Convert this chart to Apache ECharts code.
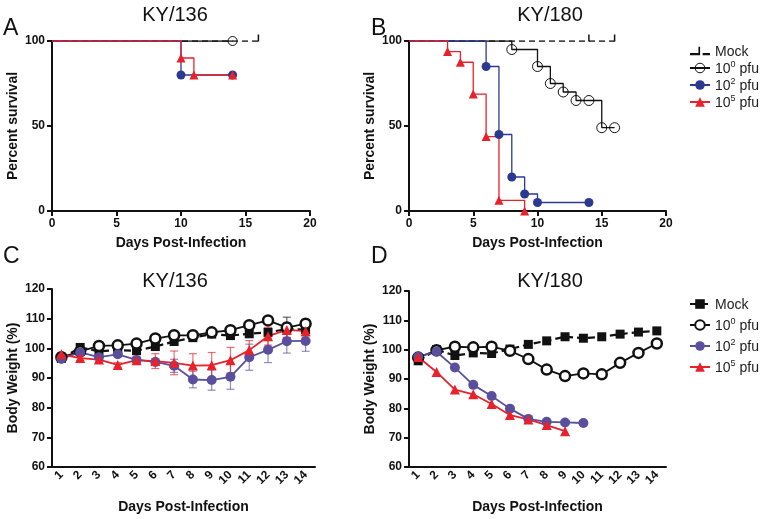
<!DOCTYPE html>
<html><head><meta charset="utf-8">
<script src="https://cdn.jsdelivr.net/npm/echarts@6/dist/echarts.min.js"></script>
<style>html,body{margin:0;padding:0;background:#fff}#c{width:762px;height:519px}</style>
</head><body><div id="c"></div>
<script>
// ---------- DATA ----------
// Survival (Kaplan-Meier) — [day, percent]
const survA_mock = [[0,100],[16,100]];
const survA_p0   = [[0,100],[14,100]];
const survA_p2   = [[0,100],[10,80],[14,80]];
const survA_p5   = [[0,100],[10,90],[11,80],[14,80]];

const survB_mock = [[0,100],[14,100],[16,100]];
const survB_p0   = [[0,100],[8,95],[10,85],[11,75],[12,70],[13,65],[14,65],[15,49],[16,49]];
const survB_p2   = [[0,100],[6,85],[7,45],[8,20],[9,10],[10,5],[14,5]];
const survB_p5   = [[0,100],[3,93.8],[4,87.5],[5,68.8],[6,43.8],[7,6.3],[9,0]];

// Body weight (%) by day
const days = ['1','2','3','4','5','6','7','8','9','10','11','12','13','14'];
const wC_mock = [96.6,100.3,99.0,99.4,99.2,100.6,102.3,103.6,104.8,104.3,104.9,105.4,106.5,106.3];
const wC_p0   = [97.0,99.0,100.8,101.0,101.6,103.3,104.4,104.4,105.4,106.1,107.8,109.4,107.0,108.3];
const wC_p2   = [96.5,98.6,97.0,98.0,96.1,95.4,94.1,89.5,89.3,90.4,97.0,99.5,102.4,102.5];
const wC_p5   = [98.0,96.7,96.2,94.4,96.0,95.7,95.1,94.2,94.3,96.0,99.4,104.1,106.2,105.8];
const eC_mock = [0.5,0.5,0.5,0.5,0.5,0.5,0.5,0.5,0.5,0.5,0.5,0.5,0.5,0.5];
const eC_p0   = [0.5,0.5,0.5,0.5,0.5,0.5,0.5,0.5,0.5,0.5,0.5,0.5,3.5,0.5];
const eC_p2   = [0.5,0.8,0.8,0.8,0.8,1.2,2.2,2.8,3.4,4.2,4.4,4.3,4.0,3.5];
const eC_p5   = [0.5,0.8,0.8,0.8,0.8,2.5,4.0,4.0,4.3,4.3,3.2,3.0,2.5,2.0];

const wD_mock = [96.2,100.0,98.0,98.9,98.7,100.2,101.8,103.0,104.4,103.9,104.4,105.3,106.0,106.4];
const wD_p0   = [97.3,99.8,101.0,100.8,101.0,99.6,96.8,93.2,91.0,91.9,91.6,95.5,98.9,102.1];
const wD_p2   = [97.6,99.3,93.9,88.0,84.2,79.9,76.4,75.4,75.2,75.0];
const wD_p5   = [97.5,92.4,86.4,84.8,81.5,77.7,76.2,74.3,72.2];

const groupNames = ['Mock','10^0 pfu','10^2 pfu','10^5 pfu'];
const weightNames = ['wMock','w10^0 pfu','w10^2 pfu','w10^5 pfu'];

// ---------- STYLE ----------
const BLACK = '#111111', BLUE = '#2c3993', PURPLE = '#594f9c', RED = '#e8212b';
const FONT = 'Liberation Sans, Arial, sans-serif';
const TICK = 'path://M0,0L1,0L1,8L0,8Z';
const MOCK_ICON = 'path://M0,7L8,7L8,1L9.6,1L9.6,9L0,9Z M12,7L19,7L19,9L12,9Z';

function survSeries(name, data, gi, color, symbol, size, opts) {
  opts = opts || {};
  return {
    type: 'line', name: name, xAxisIndex: gi, yAxisIndex: gi, step: 'end',
    data: data.map((p, i) => i === 0 ? {value: p, symbol: 'none'} : p),
    symbol: symbol, symbolSize: size, symbolOffset: opts.offset || [0, 0],
    showSymbol: true, animation: false, silent: true,
    lineStyle: {color: color, width: 1.3, type: opts.dashed ? [6, 4] : 'solid'},
    itemStyle: {color: opts.hollow ? 'rgba(0,0,0,0)' : color, borderColor: color, borderWidth: opts.hollow ? 1 : 0},
    z: opts.z || 2
  };
}
function weightSeries(name, data, gi, color, symbol, size, opts) {
  opts = opts || {};
  return {
    type: 'line', name: name, xAxisIndex: gi, yAxisIndex: gi,
    data: data, symbol: symbol, symbolSize: size, showSymbol: true,
    animation: false, silent: true,
    lineStyle: {color: color, width: opts.lw || 1.8, type: opts.dashed ? [7, 4] : 'solid'},
    itemStyle: {color: opts.hollow ? '#fff' : color, borderColor: color, borderWidth: opts.hollow ? 2.5 : 0},
    z: opts.z || 3
  };
}
function errSeries(means, errs, gi, color) {
  const d = means.map((m, i) => [i, m - errs[i], m + errs[i]]);
  return {
    type: 'custom', xAxisIndex: gi, yAxisIndex: gi, silent: true, animation: false, z: 1,
    encode: {x: 0, y: [1, 2]}, data: d,
    renderItem: function (params, api) {
      const lo = api.coord([api.value(0), api.value(1)]);
      const hi = api.coord([api.value(0), api.value(2)]);
      const w = 4;
      const st = {stroke: color, lineWidth: 1.2, opacity: 0.65};
      return {type: 'group', children: [
        {type: 'line', shape: {x1: lo[0], y1: lo[1], x2: hi[0], y2: hi[1]}, style: st},
        {type: 'line', shape: {x1: hi[0] - w, y1: hi[1], x2: hi[0] + w, y2: hi[1]}, style: st},
        {type: 'line', shape: {x1: lo[0] - w, y1: lo[1], x2: lo[0] + w, y2: lo[1]}, style: st}
      ]};
    }
  };
}

const axisLine = {lineStyle: {color: BLACK, width: 2}};
const axisTick = {length: 5, lineStyle: {color: BLACK, width: 2}};
const axisLabel = {color: BLACK, fontWeight: 'bold', fontSize: 12, fontFamily: FONT, margin: 7};
const nameStyle = {color: BLACK, fontWeight: 'bold', fontSize: 14, fontFamily: FONT};

function survX(gi) {
  return {gridIndex: gi, type: 'value', min: 0, max: 20, interval: 5,
    name: 'Days Post-Infection', nameLocation: 'middle', nameGap: 25, nameTextStyle: nameStyle,
    axisLine: axisLine, axisTick: axisTick, axisLabel: axisLabel, splitLine: {show: false}};
}
function survY(gi) {
  return {gridIndex: gi, type: 'value', min: 0, max: 100, interval: 50,
    name: 'Percent survival', nameLocation: 'middle', nameGap: 32, nameTextStyle: nameStyle,
    axisLine: Object.assign({show: true}, axisLine), axisTick: Object.assign({show: true}, axisTick),
    axisLabel: axisLabel, splitLine: {show: false}};
}
function wX(gi) {
  return {gridIndex: gi, type: 'category', data: days, boundaryGap: true,
    name: 'Days Post-Infection', nameLocation: 'middle', nameGap: 33, nameTextStyle: nameStyle,
    axisLine: axisLine, axisTick: Object.assign({alignWithLabel: true}, axisTick),
    axisLabel: Object.assign({}, axisLabel, {rotate: 45, margin: 6, interval: 0}), splitLine: {show: false}};
}
function wY(gi) {
  return {gridIndex: gi, type: 'value', min: 60, max: 120, interval: 10,
    name: 'Body Weight (%)', nameLocation: 'middle', nameGap: 32, nameTextStyle: nameStyle,
    axisLine: Object.assign({show: true}, axisLine), axisTick: Object.assign({show: true}, axisTick),
    axisLabel: axisLabel, splitLine: {show: false}};
}

const rich = {
  b: {fontSize: 14, fontFamily: FONT, color: '#222', verticalAlign: 'bottom', lineHeight: 16},
  s: {fontSize: 9, fontFamily: FONT, color: '#222', verticalAlign: 'bottom', lineHeight: 16, padding: [0, 0, 7, 0]}
};
function legendFmt(n) {
  n = n.replace(/^w/, '');
  const m = n.match(/^10\^(\d) pfu$/);
  if (!m) return '{b|' + n + '}';
  return '{b|10}{s|' + m[1] + '}{b| pfu}';
}
function legend(items, top, gap) {
  return {data: items, orient: 'vertical', left: 684, top: top, itemWidth: 20, itemHeight: 12,
    itemGap: gap, selectedMode: false, formatter: legendFmt,
    textStyle: {fontSize: 14, fontFamily: FONT, color: '#222', rich: rich}};
}
const survLegendItems = groupNames.map(n => {
  if (n === 'Mock') return {name: n, icon: MOCK_ICON};
  if (n === '10^0 pfu') return {name: n, itemStyle: {borderWidth: 1}};
  return n;
});

const titleStyle = {fontSize: 20, fontWeight: 'normal', fontFamily: FONT, color: BLACK};
const letterStyle = {fontSize: 23, fontWeight: 'normal', fontFamily: FONT, color: BLACK};

const option = {
  backgroundColor: '#fff',
  animation: false,
  title: [
    {text: 'KY/136', left: 170, top: 0, textAlign: 'center', textStyle: titleStyle},
    {text: 'KY/180', left: 545, top: 0, textAlign: 'center', textStyle: titleStyle},
    {text: 'KY/136', left: 170, top: 266, textAlign: 'center', textStyle: titleStyle},
    {text: 'KY/180', left: 545, top: 266, textAlign: 'center', textStyle: titleStyle},
    {text: 'A', left: 3, top: 17, textStyle: letterStyle, padding: 0},
    {text: 'B', left: 371, top: 17, textStyle: letterStyle, padding: 0},
    {text: 'C', left: 3, top: 245, textStyle: letterStyle, padding: 0},
    {text: 'D', left: 371, top: 245, textStyle: letterStyle, padding: 0}
  ],
  legend: [legend(survLegendItems, 40, 1), legend(weightNames, 293, 5)],
  grid: [
    {left: 52, top: 41, width: 258, height: 170},
    {left: 409, top: 41, width: 257, height: 170},
    {left: 52, top: 289, width: 263, height: 178},
    {left: 409, top: 291, width: 257, height: 176}
  ],
  xAxis: [survX(0), survX(1), wX(2), wX(3)],
  yAxis: [survY(0), survY(1), wY(2), wY(3)],
  series: [
    // Panel A
    survSeries('10^0 pfu', survA_p0, 0, BLACK, 'circle', 9, {hollow: true}),
    survSeries('Mock', survA_mock, 0, BLACK, TICK, [1.5, 7], {dashed: true, offset: [0, -3]}),
    survSeries('10^2 pfu', survA_p2, 0, BLUE, 'circle', 9),
    survSeries('10^5 pfu', survA_p5, 0, RED, 'triangle', 9),
    // Panel B
    survSeries('Mock', survB_mock, 1, BLACK, TICK, [1.5, 7], {dashed: true, offset: [0, -3]}),
    survSeries('10^0 pfu', survB_p0, 1, BLACK, 'circle', 10, {hollow: true}),
    survSeries('10^2 pfu', survB_p2, 1, BLUE, 'circle', 9),
    survSeries('10^5 pfu', survB_p5, 1, RED, 'triangle', 9),
    // Panel C
    errSeries(wC_mock, eC_mock, 2, BLACK),
    errSeries(wC_p0, eC_p0, 2, BLACK),
    errSeries(wC_p2, eC_p2, 2, PURPLE),
    errSeries(wC_p5, eC_p5, 2, RED),
    weightSeries('wMock', wC_mock, 2, BLACK, 'rect', 9, {dashed: true, lw: 2.2}),
    weightSeries('w10^0 pfu', wC_p0, 2, BLACK, 'circle', 10, {hollow: true}),
    weightSeries('w10^2 pfu', wC_p2, 2, PURPLE, 'circle', 10),
    weightSeries('w10^5 pfu', wC_p5, 2, RED, 'triangle', 10),
    // Panel D
    weightSeries('wMock', wD_mock, 3, BLACK, 'rect', 9, {dashed: true, lw: 2.2}),
    weightSeries('w10^0 pfu', wD_p0, 3, BLACK, 'circle', 10, {hollow: true}),
    weightSeries('w10^2 pfu', wD_p2, 3, PURPLE, 'circle', 10),
    weightSeries('w10^5 pfu', wD_p5, 3, RED, 'triangle', 10)
  ]
};
const chart = echarts.init(document.getElementById('c'), null, {renderer: 'canvas'});
chart.setOption(option);
</script>
</body></html>
